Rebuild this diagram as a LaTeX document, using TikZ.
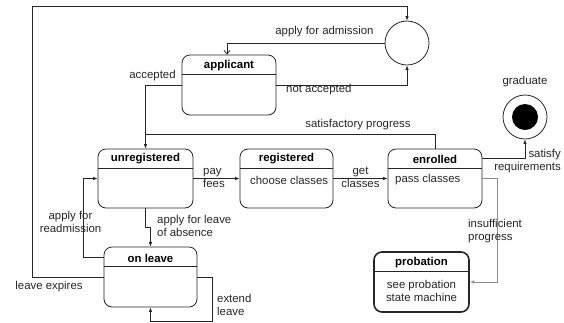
\documentclass[tikz,border=0pt]{standalone}
\usepackage{fontspec}
\setmainfont{Liberation Sans}
\usetikzlibrary{arrows.meta,calc}
\begin{document}
\begin{tikzpicture}[x=1pt,y=-1pt,
  every node/.style={font=\fontsize{11.4}{13}\selectfont, inner sep=0pt},
  st/.style={draw=black!85, line width=0.8pt, rounded corners=8pt, minimum width=94pt, minimum height=59pt},
  title/.style={font=\fontsize{11.4}{13}\selectfont\bfseries},
  lbl/.style={text=black!85},
  ln/.style={draw=black!85, line width=0.8pt},
  arr/.style={ln, -{Latex[length=4.5pt,width=3.5pt]}},
  openarr/.style={ln, -{Straight Barb[length=3.5pt,width=6pt]}}
]
\useasboundingbox (0,0) rectangle (564,322);

% states
\node[st, minimum width=94pt, minimum height=60pt] (applicant) at (229,85) {};
\node[st, minimum width=95pt] (unreg) at (145.5,178.5) {};
\node[st, minimum width=93pt] (reg) at (286.5,178.5) {};
\node[st, minimum width=94pt] (enr) at (435,178.5) {};
\node[st, minimum width=93pt, minimum height=60pt] (leave) at (150.5,277) {};
\node[st, line width=1.6pt, minimum width=95pt, minimum height=60pt] (prob) at (421.5,282) {};

% pseudo states
\node[draw=black!85, line width=0.8pt, circle, minimum size=44pt] (choice) at (407,43) {};
\node[draw=black!85, line width=0.8pt, circle, minimum size=44pt] (final) at (525,117) {};
\node[fill=black, circle, minimum size=26pt] (finalin) at (525,117) {};

% dividers
\foreach \n in {applicant,unreg,reg,enr,leave}{
  \draw[ln] ($(\n.north west)+(0,20)$) -- ($(\n.north east)+(0,20)$);
}
\draw[ln, line width=1.2pt] ($(prob.north west)+(0,20)$) -- ($(prob.north east)+(0,20)$);

% titles and bodies
\node[title] (applicantT) at (229,66) {applicant};
\node[title] (unregT) at (145.5,159) {unregistered};
\node[title] (regT) at (286.5,159) {registered};
\node[title] (enrT) at (435,159) {enrolled};
\node[title] (leaveT) at (150.5,258) {on leave};
\node[title] (probT) at (421.5,263) {probation};
\node[lbl, anchor=west] (regB) at (250,180) {choose classes};
\node[lbl, anchor=west] (enrB) at (395,180) {pass classes};
\node[lbl, align=center] (probB) at (421.5,291) {see probation\\state machine};
\node[lbl] (gradL) at (525,82) {graduate};

% connectors
\coordinate (tl) at (32,6);
\coordinate (bl) at (32,277);
\draw[arr] (leave.west) -- (bl) -- (tl) -| (choice.north);
\draw[openarr] (choice.west) -| ([xshift=-2pt]applicant.north);
\draw[arr] (applicant.east) -| (choice.south);
\draw[arr] (applicant.west) -| (unreg.north);
\coordinate (join) at (145.5,134);
\draw[ln] (enr.north) |- (join);
\draw[arr] (unreg.east) -- (reg.west);
\draw[arr] (reg.east) -- (enr.west);
\draw[arr] ([yshift=20.5pt]enr.east) -| (final.south);
\coordinate (ip) at (497,178.5);
\draw[ln, draw=black!45, -{Latex[length=4.5pt,width=3.5pt]}] (enr.east) -- (ip) |- (prob.east);
\coordinate (la) at (145.5,227);
\coordinate (lb) at (150.5,227);
\draw[arr] (unreg.south) -- (la) -- (lb) -- (leave.north);
\coordinate (ra) at (83,257);
\draw[arr] ([yshift=20pt]leave.west) -- (ra) |- (unreg.west);
\coordinate (ea) at (212,277);
\coordinate (eb) at (150.5,321);
\draw[arr] (leave.east) -- (ea) |- (eb) -- (leave.south);

% connector labels
\node[lbl] (l1) at (324.5,32) {apply for admission};
\node[lbl, anchor=west] (l2) at (286,90) {not accepted};
\node[lbl] (l3) at (152.5,76) {accepted};
\node[lbl] (l4) at (358,125) {satisfactory progress};
\node[lbl, align=left, anchor=west] (l5) at (203,177.5) {pay\\fees};
\node[lbl, align=center] (l6) at (360.5,177.5) {get\\classes};
\node[lbl, align=right, anchor=east] (l7) at (561,161.5) {satisfy\\requirements};
\node[lbl, align=left, anchor=west] (l8) at (468,231) {insufficient\\progress};
\node[lbl, align=left, anchor=west] (l9) at (157,225.5) {apply for leave\\of absence};
\node[lbl, align=center] (l10) at (70.5,221.5) {apply for\\readmission};
\node[lbl] (l11) at (49,287) {leave expires};
\node[lbl, align=left, anchor=west] (l12) at (217,304.5) {extend\\leave};
\end{tikzpicture}
\end{document}
